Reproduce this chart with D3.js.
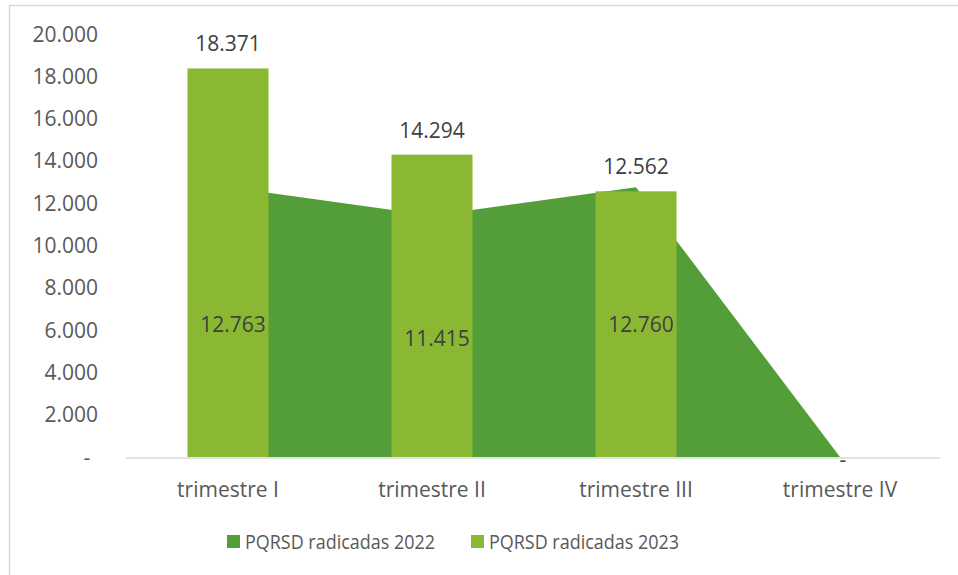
<!DOCTYPE html>
<html>
<head>
<meta charset="utf-8">
<script src="https://cdn.jsdelivr.net/npm/d3@7"></script>
<style>
  body { margin: 0; background: #fff; }
  svg { font-family: "Open Sans", sans-serif; }
</style>
</head>
<body>
<svg id="chart" width="958" height="575"></svg>
<script>
const categories = ["trimestre I", "trimestre II", "trimestre III", "trimestre IV"]
const values2022 = [12763, 11415, 12760, 0]
const values2023 = [18371, 14294, 12562, null]
const yTicks = [0, 2000, 4000, 6000, 8000, 10000, 12000, 14000, 16000, 18000, 20000]
const seriesNames = ["PQRSD radicadas 2022", "PQRSD radicadas 2023"]

const col2022 = "#549e39"
const col2023 = "#8ab833"
const textCol = "#595959"

const svg = d3.select("#chart")

// borde del grafico
svg.append("rect")
  .attr("x", 9.5).attr("y", 5.5)
  .attr("width", 960).attr("height", 580)
  .attr("fill", "none").attr("stroke", "#d9d9d9").attr("stroke-width", 1.5)

const plotLeft = 126, plotRight = 940, plotTop = 34, plotBottom = 457

const x = d3.scaleBand().domain(categories).range([plotLeft, plotRight + 2])
const y = d3.scaleLinear().domain([0, 20000]).range([plotBottom, plotTop])
const fmt = v => v === 0 ? "-" : d3.format(",")(v).replace(/,/g, ".")

// eje y (solo etiquetas)
svg.append("g").selectAll("text")
  .data(yTicks)
  .join("text")
  .attr("x", d => d === 0 ? 87 : 98)
  .attr("y", d => y(d))
  .attr("dy", "0.36em")
  .attr("text-anchor", d => d === 0 ? "middle" : "end")
  .attr("fill", textCol)
  .attr("font-size", 21)
  .text(fmt)

const cx = d => x(d) + x.bandwidth() / 2

// area 2022
const area = d3.area()
  .x((d, i) => cx(categories[i]))
  .y0(plotBottom)
  .y1(d => y(d))
svg.append("path")
  .datum(values2022)
  .attr("d", area)
  .attr("fill", col2022)

// barras 2023
const barW = 81
const bars = values2023.map((v, i) => ({ c: categories[i], v })).filter(d => d.v != null)
svg.append("g").selectAll("rect")
  .data(bars)
  .join("rect")
  .attr("x", d => cx(d.c) - barW / 2)
  .attr("width", barW)
  .attr("y", d => y(d.v))
  .attr("height", d => plotBottom - y(d.v))
  .attr("fill", col2023)

// linea base
svg.append("line")
  .attr("x1", plotLeft).attr("x2", plotRight)
  .attr("y1", plotBottom + 1).attr("y2", plotBottom + 1)
  .attr("stroke", "#d9d9d9").attr("stroke-width", 1.5)

// etiquetas barras
svg.append("g").selectAll("text")
  .data(bars)
  .join("text")
  .attr("x", d => cx(d.c))
  .attr("y", d => y(d.v) - 17)
  .attr("text-anchor", "middle")
  .attr("fill", "#404040")
  .attr("font-size", 21)
  .text(d => fmt(d.v))

// etiquetas area
svg.append("g").selectAll("text")
  .data(values2022.map((v, i) => ({ c: categories[i], v })))
  .join("text")
  .attr("x", d => cx(d.c) + (d.v === 0 ? 3 : 5))
  .attr("y", d => d.v === 0 ? plotBottom + 2 : y(d.v / 2) + 2)
  .attr("dy", "0.36em")
  .attr("text-anchor", "middle")
  .attr("fill", "#404040")
  .attr("font-size", 21)
  .text(d => fmt(d.v))

// etiquetas eje x
svg.append("g").selectAll("text")
  .data(categories)
  .join("text")
  .attr("x", d => cx(d))
  .attr("y", 497)
  .attr("text-anchor", "middle")
  .attr("fill", textCol)
  .attr("font-size", 21)
  .text(d => d)

// leyenda
const legend = svg.append("g").selectAll("g")
  .data(seriesNames)
  .join("g")
  .attr("transform", (d, i) => `translate(${227 + i * 244},535)`)
legend.append("rect")
  .attr("width", 13).attr("height", 13)
  .attr("fill", (d, i) => i === 0 ? col2022 : col2023)
legend.append("text")
  .attr("x", 18).attr("y", 7)
  .attr("dy", "0.36em")
  .attr("fill", textCol)
  .attr("font-size", 20)
  .attr("textLength", 190)
  .attr("lengthAdjust", "spacingAndGlyphs")
  .text(d => d)
</script>
</body>
</html>
